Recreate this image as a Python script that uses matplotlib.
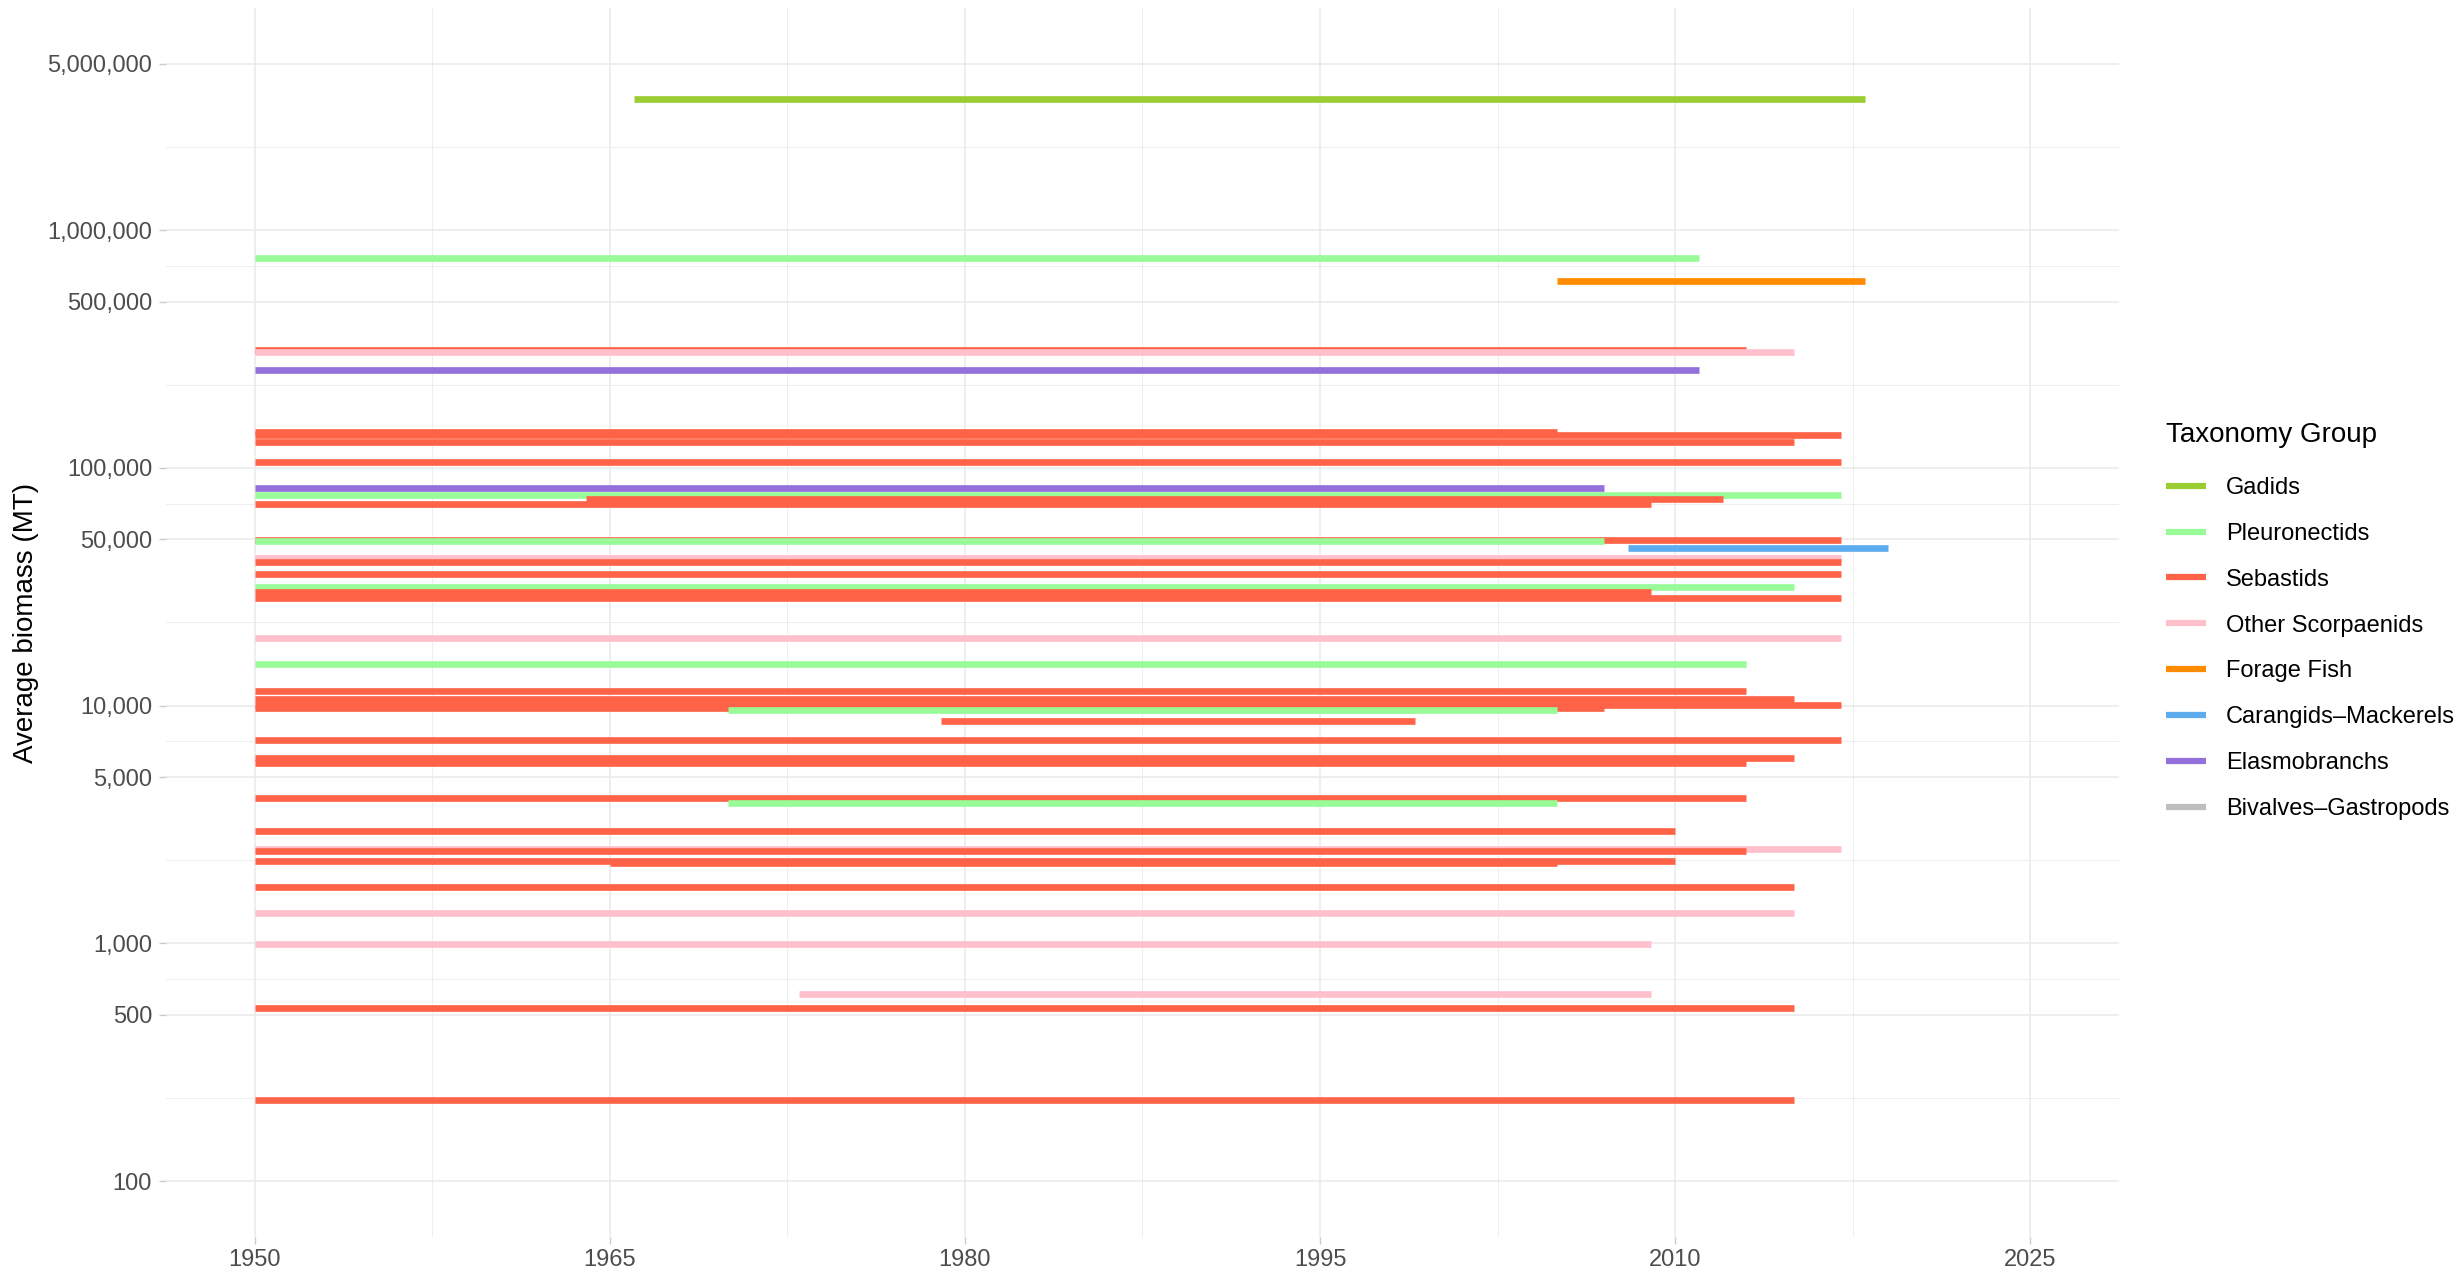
import matplotlib.pyplot as plt
from matplotlib.lines import Line2D
import numpy as np

plt.rcParams["font.family"] = ["Liberation Sans", "DejaVu Sans"]

# legend groups and their colours
taxonomy_groups = [
    "Gadids", "Pleuronectids", "Sebastids", "Other Scorpaenids",
    "Forage Fish", "Carangids\u2013Mackerels", "Elasmobranchs",
    "Bivalves\u2013Gastropods",
]
group_colors = [
    "#9ACD32", "#98FB98", "#FF6347", "#FFC0CB",
    "#FF8C00", "#5CACEE", "#9370DB", "#BEBEBE",
]

# one entry per stock (drawn in this order)
stock_group = [
    "Gadids", "Pleuronectids", "Forage Fish", "Sebastids", "Other Scorpaenids",
    "Elasmobranchs", "Sebastids", "Sebastids", "Sebastids", "Sebastids",
    "Elasmobranchs", "Pleuronectids", "Sebastids", "Sebastids", "Sebastids",
    "Pleuronectids", "Carangids\u2013Mackerels", "Other Scorpaenids", "Sebastids",
    "Sebastids", "Pleuronectids", "Sebastids", "Sebastids", "Other Scorpaenids",
    "Pleuronectids", "Sebastids", "Sebastids", "Sebastids", "Sebastids",
    "Pleuronectids", "Sebastids", "Sebastids", "Sebastids", "Sebastids",
    "Sebastids", "Pleuronectids", "Sebastids", "Other Scorpaenids", "Sebastids",
    "Sebastids", "Sebastids", "Sebastids", "Other Scorpaenids",
    "Other Scorpaenids", "Other Scorpaenids", "Sebastids", "Sebastids",
]
start_year = [
    1966, 1950, 2005, 1950, 1950,
    1950, 1950, 1950, 1950, 1950,
    1950, 1950, 1950, 1964, 1950,
    1950, 2008, 1950, 1950,
    1950, 1950, 1950, 1950, 1950,
    1950, 1950, 1950, 1950, 1950,
    1970, 1979, 1950, 1950, 1950,
    1950, 1970, 1950, 1950, 1950,
    1950, 1965, 1950, 1950,
    1950, 1973, 1950, 1950,
]
end_year = [
    2018, 2011, 2018, 2013, 2015,
    2011, 2005, 2017, 2015, 2017,
    2007, 2017, 2009, 2012, 2017,
    2007, 2019, 2017, 2017,
    2017, 2015, 2009, 2017, 2017,
    2013, 2013, 2015, 2017, 2007,
    2005, 1999, 2017, 2015, 2013,
    2013, 2005, 2010, 2017, 2013,
    2010, 2005, 2015, 2015,
    2009, 2009, 2015, 2015,
]
avg_biomass = [
    3550000, 762000, 610000, 313000, 306000,
    257000, 141000, 137000, 128500, 106000,
    82000, 76700, 70700, 73800, 49700,
    49000, 45800, 41700, 40300,
    35800, 31500, 30000, 28400, 19300,
    15000, 11500, 10700, 10100, 9800,
    9600, 8650, 7150, 6000, 5730,
    4090, 3880, 2970, 2490, 2450,
    2230, 2180, 1730, 1340,
    990, 611, 535, 220,
]

year_ticks = [1950, 1965, 1980, 1995, 2010, 2025]
biomass_ticks = [100, 500, 1000, 5000, 10000, 50000, 100000, 500000, 1000000, 5000000]

color_of = dict(zip(taxonomy_groups, group_colors))

fig = plt.figure(figsize=(24.62, 12.76), dpi=100)
ax = fig.add_axes([0.0674, 0.0306, 0.8607 - 0.0674, 0.9937 - 0.0306])

for grp, x0, x1, val in zip(stock_group, start_year, end_year, avg_biomass):
    ax.plot(
        [x0, x1], [val, val],
        color=color_of[grp],
        linewidth=4.8,
        solid_capstyle="butt"
    )

ax.set_yscale("log")

# ggplot-like 5% expansion around the limits
x_lo, x_hi = 1950, 2025
x_pad = 0.05 * (x_hi - x_lo)
ax.set_xlim(x_lo - x_pad, x_hi + x_pad)

y_lo, y_hi = np.log10(100), np.log10(5000000)
y_pad = 0.05 * (y_hi - y_lo)
ax.set_ylim(10 ** (y_lo - y_pad), 10 ** (y_hi + y_pad))

ax.set_xticks(year_ticks)
ax.set_xticks([y + 7.5 for y in year_ticks[:-1]], minor=True)
ax.set_xticklabels([str(y) for y in year_ticks])

ax.set_yticks(biomass_ticks)
ax.set_yticklabels([f"{b:,}" for b in biomass_ticks])
minor_y = [np.sqrt(a * b) for a, b in zip(biomass_ticks[:-1], biomass_ticks[1:])]
ax.set_yticks(minor_y, minor=True)
ax.yaxis.set_minor_formatter(plt.NullFormatter())

ax.grid(which="major", color="#EBEBEB", linewidth=1.2)
ax.grid(which="minor", color="#EBEBEB", linewidth=0.6)
ax.set_axisbelow(True)

for side in ["top", "right", "bottom", "left"]:
    ax.spines[side].set_visible(False)

ax.tick_params(which="major", axis="both", length=5, width=1.0,
               color="#CCCCCC", labelsize=17, labelcolor="#4D4D4D")
ax.tick_params(which="major", axis="y", pad=5)
ax.tick_params(which="major", axis="x", pad=4)
ax.tick_params(which="minor", length=0)

ax.set_ylabel("Average biomass (MT)", fontsize=20, color="black", labelpad=6)

handles = [
    Line2D([0], [0], color=c, linewidth=4.5, solid_capstyle="butt")
    for c in group_colors
]
leg = fig.legend(
    handles,
    taxonomy_groups,
    title="Taxonomy Group",
    loc="upper left",
    bbox_to_anchor=(2166 / 2462, 1 - 422 / 1276),
    frameon=False,
    fontsize=17,
    title_fontsize=20,
    alignment="left",
    handlelength=1.7,
    handletextpad=0.85,
    labelspacing=1.01,
    borderpad=0,
    borderaxespad=0,
)
# a little more room between the title and the first key
leg._legend_box.sep = 1.01 * 17 + 3.7

fig.savefig("out.png", dpi=100)
plt.close(fig)
